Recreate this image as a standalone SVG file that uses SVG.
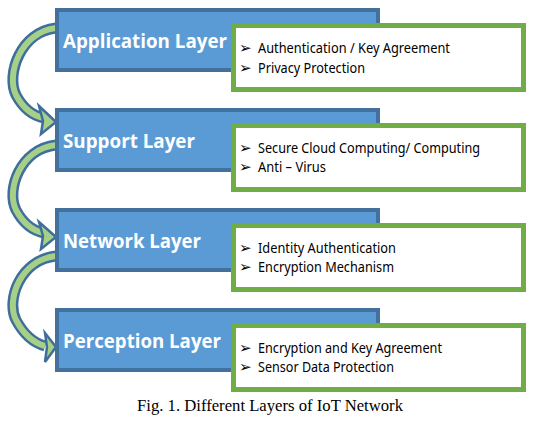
<svg xmlns="http://www.w3.org/2000/svg" width="559" height="428" viewBox="0 0 559 428">
<defs>
<style>
.layer{fill:#5b9bd5;stroke:#41719c;stroke-width:4}
.info{fill:#ffffff;stroke:#70ad47;stroke-width:5}
.lt{font-family:"Open Sans","Liberation Sans",sans-serif;font-weight:bold;font-size:20px;fill:#ffffff}
.it{font-family:"Noto Sans","Liberation Sans",sans-serif;font-size:14px;fill:#000000}
.bul{font-family:"DejaVu Sans",sans-serif;font-size:15px;fill:#000000}
.cap{font-family:"Liberation Serif",serif;font-size:16px;fill:#000000}
.bandO{fill:none;stroke:#3f6e9c;stroke-width:11}
.bandI{fill:none;stroke:#a6cf88;stroke-width:6}
.head{fill:#a6cf88;stroke:#3f6e9c;stroke-width:2.5;stroke-linejoin:miter}
</style>
</defs>
<rect width="559" height="428" fill="#ffffff"/>
<g id="connectors">
<path class="bandO" d="M56 28 C20 32 6 75 16 95 C24 110 34 116 44 118"/>
<path class="bandI" d="M56 28 C20 32 6 75 16 95 C24 110 34 116 44 118"/>
<polygon class="head" points="39,106 56,122 41,134 43,121"/>
<path class="bandO" d="M56 145 C20 149 6 190 16 210 C24 225 34 231 44 233"/>
<path class="bandI" d="M56 145 C20 149 6 190 16 210 C24 225 34 231 44 233"/>
<polygon class="head" points="39,222 56,237 41,249 43,236"/>
<path class="bandO" d="M56 256 C20 260 6 300 16 320 C24 335 34 343 45 346"/>
<path class="bandI" d="M56 256 C20 260 6 300 16 320 C24 335 34 343 45 346"/>
<polygon class="head" points="45,333 56,347 45,362 47,347"/>
</g>
<g id="application">
<rect class="layer" x="57" y="10" width="321" height="60"/>
<text class="lt" x="63" y="48" textLength="164" lengthAdjust="spacingAndGlyphs">Application Layer</text>
<rect class="info" x="233.5" y="25.5" width="290" height="64"/>
<text class="bul" x="239" y="53">➢</text><text class="it" x="258" y="53" textLength="192" lengthAdjust="spacingAndGlyphs">Authentication / Key Agreement</text>
<text class="bul" x="239" y="73">➢</text><text class="it" x="258" y="73" textLength="107" lengthAdjust="spacingAndGlyphs">Privacy Protection</text>
</g>
<g id="support">
<rect class="layer" x="57" y="110" width="321" height="60"/>
<text class="lt" x="63" y="148" textLength="132" lengthAdjust="spacingAndGlyphs">Support Layer</text>
<rect class="info" x="233.5" y="125.5" width="290" height="64"/>
<text class="bul" x="239" y="153">➢</text><text class="it" x="258" y="153" textLength="222" lengthAdjust="spacingAndGlyphs">Secure Cloud Computing/ Computing</text>
<text class="bul" x="239" y="172">➢</text><text class="it" x="258" y="172" textLength="68" lengthAdjust="spacingAndGlyphs">Anti – Virus</text>
</g>
<g id="network">
<rect class="layer" x="57" y="210" width="321" height="60"/>
<text class="lt" x="63" y="248" textLength="138" lengthAdjust="spacingAndGlyphs">Network Layer</text>
<rect class="info" x="233.5" y="225.5" width="290" height="64"/>
<text class="bul" x="239" y="253">➢</text><text class="it" x="258" y="253" textLength="138" lengthAdjust="spacingAndGlyphs">Identity Authentication</text>
<text class="bul" x="239" y="272">➢</text><text class="it" x="258" y="272" textLength="136" lengthAdjust="spacingAndGlyphs">Encryption Mechanism</text>
</g>
<g id="perception">
<rect class="layer" x="57" y="310" width="321" height="60"/>
<text class="lt" x="63" y="348" textLength="158" lengthAdjust="spacingAndGlyphs">Perception Layer</text>
<rect class="info" x="233.5" y="325.5" width="290" height="64"/>
<text class="bul" x="239" y="353">➢</text><text class="it" x="258" y="353" textLength="184" lengthAdjust="spacingAndGlyphs">Encryption and Key Agreement</text>
<text class="bul" x="239" y="372">➢</text><text class="it" x="258" y="372" textLength="136" lengthAdjust="spacingAndGlyphs">Sensor Data Protection</text>
</g>
<text class="cap" x="137" y="411" textLength="266" lengthAdjust="spacingAndGlyphs">Fig. 1. Different Layers of IoT Network</text>
</svg>
